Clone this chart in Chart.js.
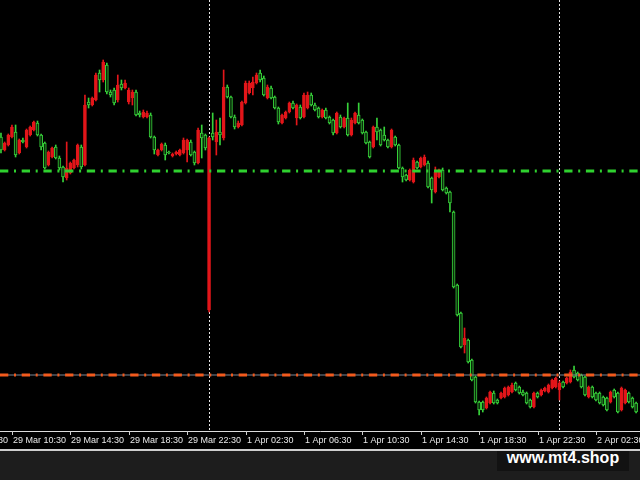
<!DOCTYPE html>
<html>
<head>
<meta charset="utf-8">
<script src="https://cdn.jsdelivr.net/npm/chart.js@4.4.1/dist/chart.umd.min.js"></script>
<style>
  html, body { margin: 0; padding: 0; background: #1d1d1d; overflow: hidden; }
  #wrap { position: relative; width: 640px; height: 449px; background: #000; }
  #rule { width: 640px; height: 2px; background: #cfcfcf; }
  #brand {
    position: absolute; left: 497px; top: 451px; width: 132px; height: 20px;
    background: #121212; color: #fff; text-align: center;
    font: bold 16px "Liberation Sans", Arial, sans-serif; line-height: 14px;
  }
</style>
</head>
<body>
<div id="wrap"><canvas id="chart" width="640" height="449"></canvas></div>
<div id="rule"></div>
<div id="brand">www.mt4.shop</div>
<script>
// 15 minute bars, 29 Mar 09:45 -> 2 Apr 05:15 (price in points)
const open = [363,350,355,363,368,347,360,353,365,370,377,365,357,335,343,353,342,333,322,327,
  332,335,353,335,398,395,400,427,420,435,408,410,400,416,412,398,402,408,387,383,
  383,385,363,345,350,355,348,344,346,345,347,350,358,348,337,367,365,190,367,358,
  368,362,413,403,383,373,375,397,407,412,417,427,422,402,412,403,392,377,382,388,
  397,382,393,383,392,405,395,392,383,390,383,380,367,383,373,382,365,377,385,380,
  368,358,353,373,370,365,360,353,363,355,332,325,320,318,338,333,335,337,322,308,
  323,330,312,308,288,215,187,155,160,140,123,98,98,92,97,107,100,102,103,105,
  108,117,113,108,107,100,93,107,105,109,108,112,113,110,118,117,118,130,127,125,
  123,103,113,107,107,103,102,98,110,107,90,97,107,102,97];
const high = [367,358,366,375,375,361,362,371,374,379,379,366,358,349,353,355,344,334,358,338,
  341,356,355,405,402,403,427,430,440,437,410,412,425,420,420,412,410,410,389,390,
  389,387,364,351,357,357,349,347,349,351,362,361,360,349,372,375,366,363,387,380,
  382,430,415,404,385,379,399,419,419,423,427,430,424,415,414,404,393,386,389,398,
  399,396,395,407,408,407,397,393,391,392,384,381,388,385,383,397,382,388,397,381,
  369,359,374,382,371,373,361,371,364,356,333,326,331,342,339,343,345,339,323,333,
  331,332,313,309,289,216,188,172,161,141,124,99,99,103,109,109,101,108,113,114,
  117,118,114,110,108,101,108,108,111,113,116,121,123,119,119,123,130,134,128,126,
  124,114,114,108,108,104,103,109,111,108,113,111,108,103,98];
const low = [347,349,354,362,343,346,357,352,364,369,364,350,331,334,342,341,330,318,320,326,
  331,333,331,334,392,394,399,408,418,406,403,395,398,410,411,396,395,384,383,382,
  382,362,346,344,349,340,346,343,345,344,346,338,344,335,336,342,350,188,360,345,
  355,360,402,382,371,372,374,396,406,405,416,418,404,401,401,391,376,376,381,387,
  391,375,381,382,391,394,389,382,382,381,376,365,366,372,372,364,364,376,376,366,
  356,342,352,360,354,359,352,352,354,331,318,319,319,317,331,332,334,312,297,307,
  322,309,306,288,212,184,152,147,137,119,97,85,88,91,96,96,96,101,102,104,
  107,109,106,104,96,92,92,102,104,108,107,111,112,100,112,116,117,122,119,112,
  104,102,102,99,96,94,89,97,102,87,89,96,97,92,87];
const close = [350,357,365,373,345,360,358,370,373,378,365,353,332,348,352,342,332,323,332,337,
  340,355,333,395,395,402,425,420,438,408,405,397,415,412,417,410,408,385,385,388,
  387,363,350,350,356,345,347,346,348,350,360,360,345,337,370,362,352,362,363,368,
  365,413,403,383,373,377,398,417,417,418,425,420,405,413,402,392,378,385,388,397,
  392,395,382,405,405,395,390,383,390,382,377,367,387,373,382,365,380,387,377,367,
  357,343,373,368,355,360,353,370,355,332,323,320,330,340,332,342,343,313,310,328,
  330,310,307,297,213,185,153,162,138,120,98,90,90,102,108,97,97,107,112,113,
  115,110,107,105,97,93,107,103,110,112,115,120,122,117,113,122,128,123,120,113,
  105,113,103,100,97,95,90,108,103,88,112,110,98,93,88];

const tickBars = [-13, 3, 19, 35, 51, 67, 83, 99, 115, 131, 147, 163];
const tickLabels = ['29 Mar 06:30', '29 Mar 10:30', '29 Mar 14:30', '29 Mar 18:30', '29 Mar 22:30', '1 Apr 02:30',
  '1 Apr 06:30', '1 Apr 10:30', '1 Apr 14:30', '1 Apr 18:30', '1 Apr 22:30', '2 Apr 02:30'];
const daySeparators = [57, 153];
const greenLevel = 329;
const orangeLevel = 125;
const bidLevel = 125;

const xMin = -0.27, xMax = 175.07;
const RED = '#e3161a', GREEN = '#37d23a', GREEN_FILL = '#0b2c0b';

const bars = open.map((_, i) => i);
const up = bars.map(i => close[i] > open[i]);

// period separators behind the candles, time labels MT4 style (left aligned at tick)
const mt4Plugin = {
  id: 'mt4',
  beforeDatasetsDraw(chart) {
    const { ctx, chartArea, scales } = chart;
    ctx.save();
    ctx.strokeStyle = '#e6e6e6';
    ctx.lineWidth = 1;
    ctx.setLineDash([2, 2]);
    daySeparators.forEach(b => {
      const x = Math.round(scales.x.getPixelForValue(b)) + 0.5;
      ctx.beginPath();
      ctx.moveTo(x, chartArea.top);
      ctx.lineTo(x, chartArea.bottom);
      ctx.stroke();
    });
    ctx.restore();
  },
  afterDraw(chart) {
    const { ctx, chartArea, scales } = chart;
    ctx.save();
    ctx.fillStyle = '#e8e8e8';
    ctx.strokeStyle = '#cfcfcf';
    ctx.lineWidth = 1;
    ctx.font = '9px "Liberation Sans"';
    ctx.textAlign = 'left';
    ctx.textBaseline = 'top';
    tickBars.forEach((b, k) => {
      const x = Math.round(scales.x.getPixelForValue(b));
      ctx.beginPath();
      ctx.moveTo(x + 0.5, chartArea.bottom);
      ctx.lineTo(x + 0.5, chartArea.bottom + 4);
      ctx.stroke();
      ctx.fillText(tickLabels[k], x + 1, chartArea.bottom + 5);
    });
    ctx.restore();
  }
};

function hline(level, color, width, dash, order) {
  return {
    type: 'line',
    data: [{ x: xMin, y: level }, { x: xMax, y: level }],
    borderColor: color,
    borderWidth: width,
    borderDash: dash,
    pointRadius: 0,
    order: order
  };
}

new Chart(document.getElementById('chart'), {
  type: 'bar',
  data: {
    datasets: [
      hline(bidLevel, '#7a8796', 1, [], 1),
      hline(greenLevel, '#2fd12f', 3, [8.3, 5.7, 2, 5.7], 0),
      hline(orangeLevel, '#f25a1d', 3, [8.3, 5.7, 2, 5.7], 0),
      {
        // candle bodies
        data: bars.map(i => ({ x: i, y: [open[i], close[i]] })),
        backgroundColor: bars.map(i => up[i] ? RED : GREEN_FILL),
        borderColor: bars.map(i => up[i] ? RED : GREEN),
        borderWidth: 1,
        borderSkipped: false,
        barThickness: 3,
        grouped: false,
        order: 2
      },
      {
        // wicks
        data: bars.map(i => ({ x: i, y: [low[i], high[i]] })),
        backgroundColor: bars.map(i => up[i] ? RED : GREEN),
        borderWidth: 0,
        barThickness: 1,
        grouped: false,
        order: 3
      }
    ]
  },
  options: {
    responsive: false,
    animation: false,
    layout: { padding: 0, autoPadding: false },
    plugins: { legend: { display: false }, tooltip: { enabled: false } },
    scales: {
      x: {
        type: 'linear',
        offset: false,
        min: xMin,
        max: xMax,
        grid: { display: false },
        border: { display: true, color: '#dcdcdc', width: 1 },
        ticks: { display: false },
        afterFit: s => { s.height = 18; }
      },
      y: { display: false, min: 69, max: 500 }
    }
  },
  plugins: [mt4Plugin]
});
</script>
</body>
</html>
